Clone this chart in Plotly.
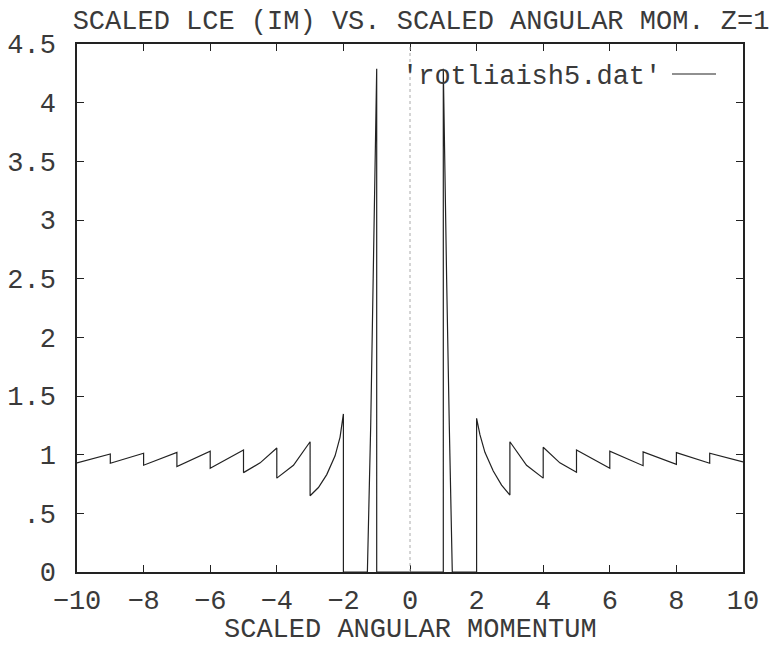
import plotly.graph_objects as go

# ---- data ----
x_vals = [-10, -9, -9, -8, -8, -7, -7, -6, -6, -5, -5, -4.5, -4, -4, -3.5, -3, -3,
          -2.75, -2.5, -2.25, -2.1, -2, -2, -1.28, -1.18, -1.10, -1.04, -1.0, -1.0,
          1.0, 1.0, 1.04, 1.10, 1.18, 1.27, 2, 2, 2.1, 2.25, 2.5, 2.75, 3, 3,
          3.5, 4, 4, 4.5, 5, 5, 6, 6, 7, 7, 8, 8, 9, 9, 10]
y_vals = [0.93, 1.006, 0.927, 1.012, 0.91, 1.02, 0.898, 1.03, 0.884, 1.04, 0.847, 0.93, 1.057, 0.80, 0.91, 1.11, 0.65,
          0.72, 0.83, 0.99, 1.15, 1.347, 0.0, 0.0, 1.25, 2.57, 3.4, 4.29, 0.0,
          0.0, 4.29, 3.4, 2.5, 1.25, 0.0, 0.0, 1.31, 1.17, 1.02, 0.86, 0.74, 0.656, 1.11,
          0.91, 0.80, 1.063, 0.93, 0.85, 1.04, 0.884, 1.03, 0.906, 1.023, 0.918, 1.017, 0.927, 1.012, 0.938]

x_ticks = [-10, -8, -6, -4, -2, 0, 2, 4, 6, 8, 10]
x_tick_text = ["\u221210", "\u22128", "\u22126", "\u22124", "\u22122", "0", "2", "4", "6", "8", "10"]
y_ticks = [0, 0.5, 1, 1.5, 2, 2.5, 3, 3.5, 4, 4.5]
y_tick_text = ["0", ".5", "1", "1.5", "2", "2.5", "3", "3.5", "4", "4.5"]

title_text = "SCALED LCE (IM) VS. SCALED ANGULAR MOM. Z=1"
x_title = "SCALED ANGULAR MOMENTUM"
legend_label = "'rotliaish5.dat'"

FONT = "Liberation Mono, Courier New, monospace"
INK = "#222222"
TXT = "#3a3a3a"

fig = go.Figure()
fig.add_trace(go.Scatter(x=x_vals, y=y_vals, mode="lines",
                         line=dict(color=INK, width=1.2), name=legend_label,
                         showlegend=False))

# dotted zero axis
fig.add_vline(x=0, line=dict(color="#aaaaaa", width=1, dash="dot"))

W, H = 769, 645
L, R, T, B = 77, 26, 44, 73
PW, PH = W - L - R, H - T - B

fig.update_layout(
    width=W, height=H,
    margin=dict(l=L, r=R, t=T, b=B, autoexpand=False),
    paper_bgcolor="white", plot_bgcolor="white",
    font=dict(family=FONT, size=27, color=TXT),
    title=dict(text=title_text, x=421 / W, xref="container", xanchor="center",
               y=1 - 20 / H, yref="container", yanchor="middle",
               font=dict(family=FONT, size=27, color=TXT)),
    showlegend=False,
)

fig.update_xaxes(range=[-10, 10], tickmode="array", tickvals=x_ticks, ticktext=x_tick_text,
                 ticks="inside", ticklen=7, tickwidth=1.2, tickcolor=INK,
                 showline=True, linecolor=INK, linewidth=1.5, mirror="allticks",
                 showgrid=False, zeroline=False, ticklabelstandoff=3, automargin=False)
fig.update_yaxes(range=[0, 4.5], tickmode="array", tickvals=y_ticks, ticktext=y_tick_text,
                 ticks="inside", ticklen=7, tickwidth=1.2, tickcolor=INK,
                 showline=True, linecolor=INK, linewidth=1.5, mirror="allticks",
                 showgrid=False, zeroline=False, ticklabelstandoff=14, automargin=False)

# x-axis title
fig.add_annotation(text=x_title, xref="paper", yref="paper",
                   x=0.5, y=-(630 - (T + PH)) / PH, xanchor="center", yanchor="middle",
                   showarrow=False, font=dict(family=FONT, size=27, color=TXT))

# legend (gnuplot style: label then line sample)
fig.add_annotation(text=legend_label, xref="paper", yref="paper",
                   x=(663 - L) / PW, y=1 - (77 - T) / PH,
                   xanchor="right", yanchor="middle", showarrow=False,
                   font=dict(family=FONT, size=27, color=TXT))
fig.add_shape(type="line", xref="paper", yref="paper",
              x0=(672 - L) / PW, x1=(716 - L) / PW,
              y0=1 - (74 - T) / PH, y1=1 - (74 - T) / PH,
              line=dict(color=INK, width=1.2))

fig.write_html("out.html")
